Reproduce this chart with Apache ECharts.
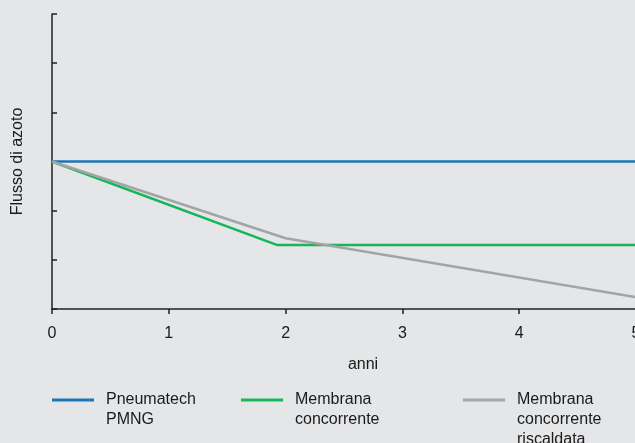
<!DOCTYPE html>
<html>
<head>
<meta charset="utf-8">
<script src="https://cdn.jsdelivr.net/npm/echarts@6/dist/echarts.min.js"></script>
<style>
  html, body { margin: 0; padding: 0; background: #e5e6e8; }
  #chart { width: 635px; height: 443px; }
</style>
</head>
<body>
<div id="chart"></div>
<script>
  // anni (x) e flusso di azoto (y)
  const xTicks = [0, 1, 2, 3, 4, 5];
  const pneumatechX = [0, 5];
  const pneumatechY = [3, 3];
  const membranaX = [0, 1.93, 5];
  const membranaY = [3, 1.3, 1.3];
  const riscaldataX = [0, 2, 5];
  const riscaldataY = [3, 1.44, 0.24];
  const seriesNames = ['Pneumatech\nPMNG', 'Membrana\nconcorrente', 'Membrana\nconcorrente\nriscaldata'];
  const seriesColors = ['#1b75b6', '#16b55a', '#a3a4a6'];

  const pairs = (xs, ys) => xs.map((x, i) => [x, ys[i]]);

  let chart = echarts.init(document.getElementById('chart'));
  const font = 'Liberation Sans, Arial, sans-serif';

  // una legenda per voce; righe vuote davanti così la prima riga sta sul segno
  const legendLeft = [52, 241, 463];
  const legendTop = [370, 370, 350];

  let option = {
    backgroundColor: '#e5e6e8',
    animation: false,
    color: seriesColors,
    textStyle: { fontFamily: font },
    grid: {
      left: 52,
      top: 14,
      right: -1,
      bottom: 134,
      outerBoundsMode: 'none'
    },
    legend: seriesNames.map((n, i) => ({
      data: [n],
      left: legendLeft[i],
      top: legendTop[i],
      padding: 0,
      icon: 'rect',
      itemWidth: 42,
      itemHeight: 3,
      selectedMode: false,
      formatter: name => '\n'.repeat(name.split('\n').length - 1) + name,
      textStyle: {
        fontFamily: font,
        fontSize: 16,
        color: '#1a1a1a',
        lineHeight: 20,
        padding: [0, 0, 0, 7]
      }
    })),
    xAxis: {
      type: 'value',
      min: 0,
      max: 5,
      interval: 1,
      name: 'anni',
      nameLocation: 'middle',
      nameGap: 48,
      nameTextStyle: { fontSize: 16, color: '#1a1a1a', padding: [0, 0, 0, 38] },
      splitLine: { show: false },
      axisLine: { lineStyle: { color: '#222', width: 1.5 } },
      axisTick: { show: true, length: 5, lineStyle: { color: '#222', width: 1.5 } },
      axisLabel: {
        margin: 17,
        fontSize: 16,
        color: '#1a1a1a',
        formatter: v => xTicks.indexOf(v) >= 0 ? String(v) : ''
      }
    },
    yAxis: {
      type: 'value',
      min: 0,
      max: 6,
      interval: 1,
      name: 'Flusso di azoto',
      nameLocation: 'middle',
      nameGap: 26,
      nameTextStyle: { fontSize: 16, color: '#1a1a1a' },
      splitLine: { show: false },
      axisLine: { show: true, lineStyle: { color: '#222', width: 1.5 } },
      axisTick: { show: true, inside: true, length: 5, lineStyle: { color: '#222', width: 1.5 } },
      axisLabel: { show: false }
    },
    series: [
      {
        name: seriesNames[0],
        type: 'line',
        data: pairs(pneumatechX, pneumatechY),
        showSymbol: false,
        lineStyle: { width: 2.5 }
      },
      {
        name: seriesNames[1],
        type: 'line',
        data: pairs(membranaX, membranaY),
        showSymbol: false,
        lineStyle: { width: 2.5 }
      },
      {
        name: seriesNames[2],
        type: 'line',
        data: pairs(riscaldataX, riscaldataY),
        showSymbol: false,
        lineStyle: { width: 2.5 }
      }
    ]
  };
  chart.setOption(option);
</script>
</body>
</html>
